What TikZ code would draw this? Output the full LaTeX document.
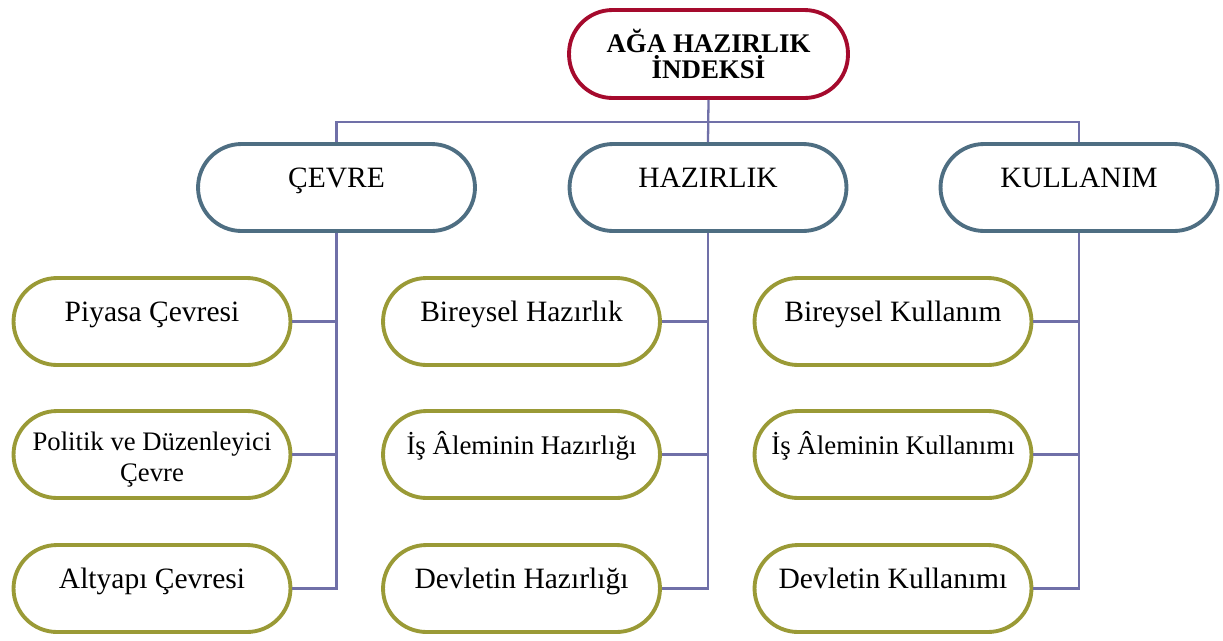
\documentclass[tikz,border=0pt]{standalone}
\usepackage{fontspec}
\setmainfont{Liberation Serif}
\definecolor{rootred}{HTML}{A50A2D}
\definecolor{midblue}{HTML}{4E6E82}
\definecolor{leafolive}{HTML}{9A9A36}
\definecolor{linkblue}{HTML}{7070A8}
\begin{document}
\begin{tikzpicture}[x=0.02cm, y=-0.02cm,
    every node/.style={draw, fill=white, rounded corners=0.87cm, line width=2.2pt,
      minimum width=5.54cm, minimum height=1.74cm, align=center,
      font=\fontsize{16.8}{17.6}\selectfont},
    topbox/.style={draw=rootred, minimum width=5.58cm, minimum height=1.76cm,
      font=\fontsize{15.3}{14.8}\selectfont\bfseries},
    midbox/.style={draw=midblue, text height=12pt, text depth=12pt},
    leafbox/.style={draw=leafolive},
    up/.style={text height=12pt, text depth=12pt},
    small/.style={font=\fontsize{15.3}{17.6}\selectfont},
    link/.style={draw=linkblue, line width=1.3pt}]
  \useasboundingbox (0,0) rectangle (1223,640);
  % top
  \node[topbox] (root) at (708.5,54) {AĞA HAZIRLIK\\İNDEKSİ};
  % second level
  \node[midbox] (c) at (336.5,187.5) {ÇEVRE};
  \node[midbox] (h) at (708,187.5) {HAZIRLIK};
  \node[midbox] (k) at (1079,187.5) {KULLANIM};
  % leaves
  \node[leafbox, up] (c1) at (152,321.5) {Piyasa Çevresi};
  \node[leafbox, font=\fontsize{15.2}{17.6}\selectfont] (c2) at (152,454.5) {\rule{0pt}{16pt}Politik ve Düzenleyici\\Çevre};
  \node[leafbox, up] (c3) at (152,588.5) {Altyapı Çevresi};
  \node[leafbox, up] (h1) at (521.5,321.5) {Bireysel Hazırlık};
  \node[leafbox, up, small] (h2) at (521.5,454.5) {İş Âleminin Hazırlığı};
  \node[leafbox, up] (h3) at (521.5,588.5) {Devletin Hazırlığı};
  \node[leafbox, up] (k1) at (893,321.5) {Bireysel Kullanım};
  \node[leafbox, up, small] (k2) at (893,454.5) {İş Âleminin Kullanımı};
  \node[leafbox, up] (k3) at (893,588.5) {Devletin Kullanımı};
  % connectors
  \coordinate (bus) at (708,122);
  \draw[link] (root.south) -- (h.north);
  \draw[link] (c.north) |- (bus) -| (k.north);
  \foreach \p in {c,h,k}{
    \draw[link] (\p.south) |- (\p3.east);
    \draw[link] (\p1.east) -- (\p1.east -| \p.south);
    \draw[link] (\p2.east) -- (\p2.east -| \p.south);
  }
\end{tikzpicture}
\end{document}
